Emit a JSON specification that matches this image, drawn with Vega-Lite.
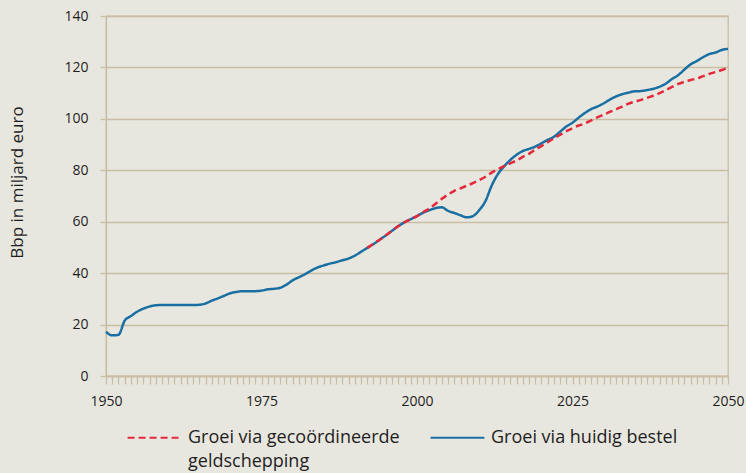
{
  "$schema": "https://vega.github.io/schema/vega-lite/v6.json",
  "width": 622,
  "height": 360,
  "autosize": {"type": "none"},
  "padding": {"left": 106, "top": 16, "right": 18, "bottom": 97},
  "background": "#e8e7df",
  "config": {
    "font": "Open Sans",
    "view": {"stroke": "#c9bda3", "strokeWidth": 1.3},
    "axis": {"labelFont": "Open Sans", "titleFont": "Open Sans", "labelColor": "#1e1e1e", "titleColor": "#1e1e1e", "domainColor": "#c9bda3", "tickColor": "#c9bda3", "gridColor": "#c9bda3", "domainWidth": 1.3, "tickWidth": 1.3, "gridWidth": 1.3},
    "legend": {"labelFont": "Open Sans", "labelColor": "#1e1e1e"}
  },
  "data": {
    "values": [
      {"year": 1950, "Groei via huidig bestel": 17.2},
      {"year": 1951, "Groei via huidig bestel": 15.8},
      {"year": 1952, "Groei via huidig bestel": 16.0},
      {"year": 1953, "Groei via huidig bestel": 21.5},
      {"year": 1954, "Groei via huidig bestel": 23.3},
      {"year": 1955, "Groei via huidig bestel": 25.0},
      {"year": 1956, "Groei via huidig bestel": 26.2},
      {"year": 1957, "Groei via huidig bestel": 27.0},
      {"year": 1958, "Groei via huidig bestel": 27.5},
      {"year": 1959, "Groei via huidig bestel": 27.6},
      {"year": 1960, "Groei via huidig bestel": 27.6},
      {"year": 1961, "Groei via huidig bestel": 27.6},
      {"year": 1962, "Groei via huidig bestel": 27.6},
      {"year": 1963, "Groei via huidig bestel": 27.6},
      {"year": 1964, "Groei via huidig bestel": 27.6},
      {"year": 1965, "Groei via huidig bestel": 27.7},
      {"year": 1966, "Groei via huidig bestel": 28.2},
      {"year": 1967, "Groei via huidig bestel": 29.3},
      {"year": 1968, "Groei via huidig bestel": 30.2},
      {"year": 1969, "Groei via huidig bestel": 31.2},
      {"year": 1970, "Groei via huidig bestel": 32.2},
      {"year": 1971, "Groei via huidig bestel": 32.7},
      {"year": 1972, "Groei via huidig bestel": 33.0},
      {"year": 1973, "Groei via huidig bestel": 33.0},
      {"year": 1974, "Groei via huidig bestel": 33.0},
      {"year": 1975, "Groei via huidig bestel": 33.2},
      {"year": 1976, "Groei via huidig bestel": 33.7},
      {"year": 1977, "Groei via huidig bestel": 33.9},
      {"year": 1978, "Groei via huidig bestel": 34.3},
      {"year": 1979, "Groei via huidig bestel": 35.5},
      {"year": 1980, "Groei via huidig bestel": 37.2},
      {"year": 1981, "Groei via huidig bestel": 38.4},
      {"year": 1982, "Groei via huidig bestel": 39.6},
      {"year": 1983, "Groei via huidig bestel": 41.0},
      {"year": 1984, "Groei via huidig bestel": 42.2},
      {"year": 1985, "Groei via huidig bestel": 43.0},
      {"year": 1986, "Groei via huidig bestel": 43.7},
      {"year": 1987, "Groei via huidig bestel": 44.3},
      {"year": 1988, "Groei via huidig bestel": 45.0},
      {"year": 1989, "Groei via huidig bestel": 45.7},
      {"year": 1990, "Groei via huidig bestel": 46.8},
      {"year": 1991, "Groei via huidig bestel": 48.3},
      {"year": 1992, "Groei via huidig bestel": 49.8, "Groei via gecoördineerde geldschepping": 49.8},
      {"year": 1993, "Groei via huidig bestel": 51.3, "Groei via gecoördineerde geldschepping": 51.4},
      {"year": 1994, "Groei via huidig bestel": 53.0, "Groei via gecoördineerde geldschepping": 53.0},
      {"year": 1995, "Groei via huidig bestel": 54.7, "Groei via gecoördineerde geldschepping": 54.7},
      {"year": 1996, "Groei via huidig bestel": 56.5, "Groei via gecoördineerde geldschepping": 56.5},
      {"year": 1997, "Groei via huidig bestel": 58.3, "Groei via gecoördineerde geldschepping": 58.3},
      {"year": 1998, "Groei via huidig bestel": 59.8, "Groei via gecoördineerde geldschepping": 59.8},
      {"year": 1999, "Groei via huidig bestel": 61.0, "Groei via gecoördineerde geldschepping": 61.0},
      {"year": 2000, "Groei via huidig bestel": 62.2, "Groei via gecoördineerde geldschepping": 62.2},
      {"year": 2001, "Groei via huidig bestel": 63.5, "Groei via gecoördineerde geldschepping": 63.7},
      {"year": 2002, "Groei via huidig bestel": 64.5, "Groei via gecoördineerde geldschepping": 65.2},
      {"year": 2003, "Groei via huidig bestel": 65.3, "Groei via gecoördineerde geldschepping": 67.0},
      {"year": 2004, "Groei via huidig bestel": 65.6, "Groei via gecoördineerde geldschepping": 68.9},
      {"year": 2005, "Groei via huidig bestel": 64.2, "Groei via gecoördineerde geldschepping": 70.6},
      {"year": 2006, "Groei via huidig bestel": 63.4, "Groei via gecoördineerde geldschepping": 72.0},
      {"year": 2007, "Groei via huidig bestel": 62.5, "Groei via gecoördineerde geldschepping": 73.0},
      {"year": 2008, "Groei via huidig bestel": 61.7, "Groei via gecoördineerde geldschepping": 74.0},
      {"year": 2009, "Groei via huidig bestel": 62.2, "Groei via gecoördineerde geldschepping": 75.0},
      {"year": 2010, "Groei via huidig bestel": 64.5, "Groei via gecoördineerde geldschepping": 76.2},
      {"year": 2011, "Groei via huidig bestel": 68.0, "Groei via gecoördineerde geldschepping": 77.5},
      {"year": 2012, "Groei via huidig bestel": 74.0, "Groei via gecoördineerde geldschepping": 79.1},
      {"year": 2013, "Groei via huidig bestel": 78.5, "Groei via gecoördineerde geldschepping": 80.4},
      {"year": 2014, "Groei via huidig bestel": 81.5, "Groei via gecoördineerde geldschepping": 81.6},
      {"year": 2015, "Groei via huidig bestel": 84.0, "Groei via gecoördineerde geldschepping": 82.7},
      {"year": 2016, "Groei via huidig bestel": 86.0, "Groei via gecoördineerde geldschepping": 83.8},
      {"year": 2017, "Groei via huidig bestel": 87.5, "Groei via gecoördineerde geldschepping": 85.2},
      {"year": 2018, "Groei via huidig bestel": 88.3, "Groei via gecoördineerde geldschepping": 86.4},
      {"year": 2019, "Groei via huidig bestel": 89.2, "Groei via gecoördineerde geldschepping": 88.0},
      {"year": 2020, "Groei via huidig bestel": 90.5, "Groei via gecoördineerde geldschepping": 89.4},
      {"year": 2021, "Groei via huidig bestel": 91.8, "Groei via gecoördineerde geldschepping": 90.9},
      {"year": 2022, "Groei via huidig bestel": 93.0, "Groei via gecoördineerde geldschepping": 92.4},
      {"year": 2023, "Groei via huidig bestel": 95.0, "Groei via gecoördineerde geldschepping": 93.8},
      {"year": 2024, "Groei via huidig bestel": 97.0, "Groei via gecoördineerde geldschepping": 95.2},
      {"year": 2025, "Groei via huidig bestel": 98.5, "Groei via gecoördineerde geldschepping": 96.4},
      {"year": 2026, "Groei via huidig bestel": 100.5, "Groei via gecoördineerde geldschepping": 97.4},
      {"year": 2027, "Groei via huidig bestel": 102.3, "Groei via gecoördineerde geldschepping": 98.2},
      {"year": 2028, "Groei via huidig bestel": 103.8, "Groei via gecoördineerde geldschepping": 99.4},
      {"year": 2029, "Groei via huidig bestel": 104.8, "Groei via gecoördineerde geldschepping": 100.6},
      {"year": 2030, "Groei via huidig bestel": 106.0, "Groei via gecoördineerde geldschepping": 101.6},
      {"year": 2031, "Groei via huidig bestel": 107.5, "Groei via gecoördineerde geldschepping": 102.7},
      {"year": 2032, "Groei via huidig bestel": 108.7, "Groei via gecoördineerde geldschepping": 103.7},
      {"year": 2033, "Groei via huidig bestel": 109.6, "Groei via gecoördineerde geldschepping": 104.8},
      {"year": 2034, "Groei via huidig bestel": 110.2, "Groei via gecoördineerde geldschepping": 105.9},
      {"year": 2035, "Groei via huidig bestel": 110.7, "Groei via gecoördineerde geldschepping": 106.7},
      {"year": 2036, "Groei via huidig bestel": 110.8, "Groei via gecoördineerde geldschepping": 107.4},
      {"year": 2037, "Groei via huidig bestel": 111.2, "Groei via gecoördineerde geldschepping": 108.2},
      {"year": 2038, "Groei via huidig bestel": 111.7, "Groei via gecoördineerde geldschepping": 109.0},
      {"year": 2039, "Groei via huidig bestel": 112.5, "Groei via gecoördineerde geldschepping": 110.0},
      {"year": 2040, "Groei via huidig bestel": 113.7, "Groei via gecoördineerde geldschepping": 111.2},
      {"year": 2041, "Groei via huidig bestel": 115.5, "Groei via gecoördineerde geldschepping": 112.4},
      {"year": 2042, "Groei via huidig bestel": 117.0, "Groei via gecoördineerde geldschepping": 113.6},
      {"year": 2043, "Groei via huidig bestel": 119.2, "Groei via gecoördineerde geldschepping": 114.4},
      {"year": 2044, "Groei via huidig bestel": 121.2, "Groei via gecoördineerde geldschepping": 115.1},
      {"year": 2045, "Groei via huidig bestel": 122.5, "Groei via gecoördineerde geldschepping": 115.7},
      {"year": 2046, "Groei via huidig bestel": 124.0, "Groei via gecoördineerde geldschepping": 116.6},
      {"year": 2047, "Groei via huidig bestel": 125.2, "Groei via gecoördineerde geldschepping": 117.5},
      {"year": 2048, "Groei via huidig bestel": 125.8, "Groei via gecoördineerde geldschepping": 118.2},
      {"year": 2049, "Groei via huidig bestel": 126.8, "Groei via gecoördineerde geldschepping": 119.0},
      {"year": 2050, "Groei via huidig bestel": 127.2, "Groei via gecoördineerde geldschepping": 119.8}
    ]
  },
  "transform": [
    {"fold": ["Groei via gecoördineerde geldschepping", "Groei via huidig bestel"], "as": ["reeks", "bbp"]},
    {"filter": "isValid(datum.bbp)"}
  ],
  "mark": {"type": "line", "strokeWidth": 2.5, "interpolate": "monotone"},
  "encoding": {
    "x": {
      "field": "year", "type": "quantitative",
      "scale": {"domain": [1950, 2050], "nice": false, "zero": false},
      "axis": {
        "title": null, "grid": false, "tickCount": 100, "tickSize": 8,
        "labelExpr": "datum.value % 25 == 0 ? datum.value + '' : ''",
        "labelOverlap": false, "labelFlush": false, "labelFontSize": 14,
        "labelPadding": 10
      }
    },
    "y": {
      "field": "bbp", "type": "quantitative",
      "scale": {"domain": [0, 140], "nice": false},
      "axis": {
        "title": "Bbp in miljard euro", "values": [0, 20, 40, 60, 80, 100, 120, 140],
        "grid": true, "tickSize": 6, "labelPadding": 12, "labelFontSize": 14,
        "titleFontSize": 17, "titleFontWeight": "normal", "titleX": -89, "titleY": 166,
        "titleAngle": -90, "titleBaseline": "middle", "titleAlign": "center"
      }
    },
    "color": {
      "field": "reeks", "type": "nominal",
      "scale": {"domain": ["Groei via gecoördineerde geldschepping", "Groei via huidig bestel"], "range": ["#e3293b", "#1a6fa2"]},
      "legend": {
        "title": null, "orient": "none", "direction": "horizontal",
        "legendX": 20, "legendY": 393,
        "symbolType": "stroke", "symbolSize": 2900, "symbolStrokeWidth": 2.2,
        "labelFontSize": 18, "labelOffset": 5, "columnPadding": 26,
        "labelLimit": 400,
        "labelExpr": "datum.label == 'Groei via gecoördineerde geldschepping' ? ['Groei via gecoördineerde', 'geldschepping'] : [datum.label, '']",
        "encode": {"labels": {"update": {"lineHeight": {"value": 24}}}}
      }
    },
    "strokeDash": {
      "field": "reeks", "type": "nominal",
      "scale": {"domain": ["Groei via gecoördineerde geldschepping", "Groei via huidig bestel"], "range": [[7, 4], [1, 0]]},
      "legend": null
    }
  }
}
